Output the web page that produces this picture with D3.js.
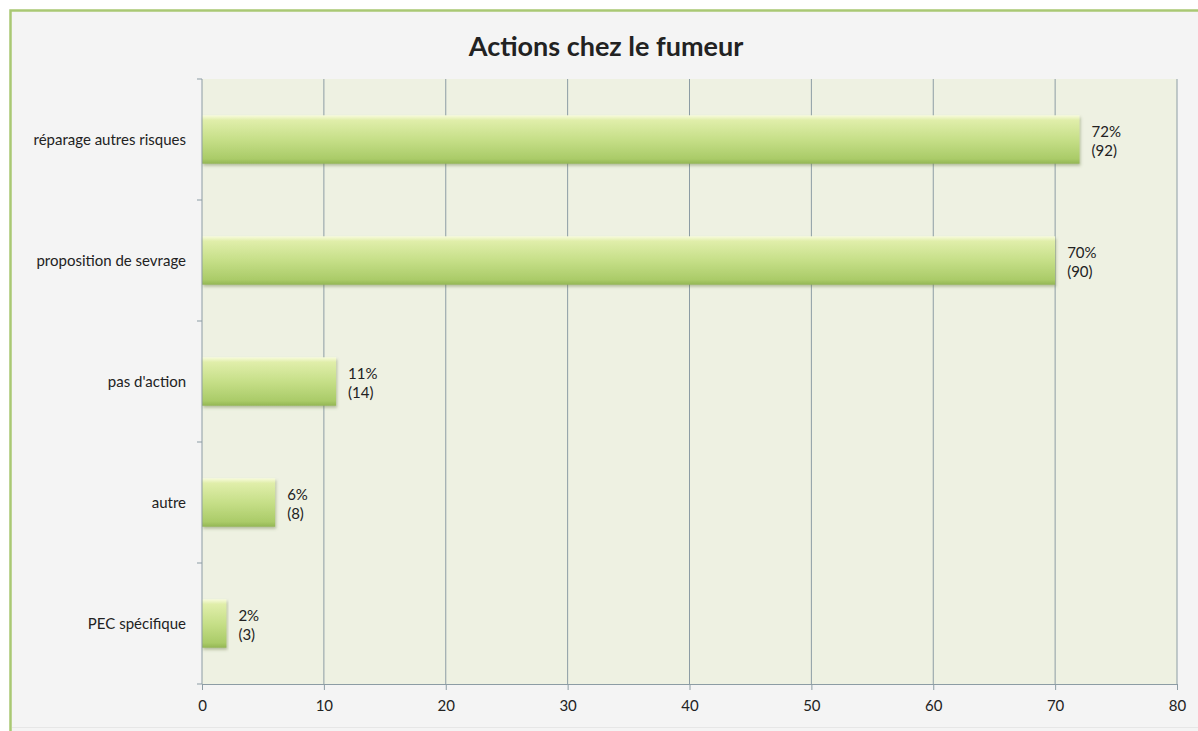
<!DOCTYPE html>
<html>
<head>
<meta charset="utf-8">
<script src="https://cdn.jsdelivr.net/npm/d3@7"></script>
<style>
  body { margin: 0; background: #ffffff; }
  svg text { font-family: Lato, "Open Sans", sans-serif; fill: #222; }
</style>
</head>
<body>
<div id="chart"></div>
<script>
// Données
const categories = ["réparage autres risques", "proposition de sevrage", "pas d'action", "autre", "PEC spécifique"];
const pourcentages = [72, 70, 11, 6, 2];
const effectifs = [92, 90, 14, 8, 3];
const ticksX = [0, 10, 20, 30, 40, 50, 60, 70, 80];

const width = 1198, height = 731;
const mGauche = 202, mDroite = 1177, mHaut = 79, mBas = 684;

const svg = d3.select("#chart").append("svg")
    .attr("width", width)
    .attr("height", height);

const defs = svg.append("defs");
const grad = defs.append("linearGradient")
    .attr("id", "barre").attr("x1", 0).attr("y1", 0).attr("x2", 0).attr("y2", 1);
grad.append("stop").attr("offset", "0%").attr("stop-color", "#f8fbdc");
grad.append("stop").attr("offset", "10%").attr("stop-color", "#e0eeaa");
grad.append("stop").attr("offset", "50%").attr("stop-color", "#c6df88");
grad.append("stop").attr("offset", "90%").attr("stop-color", "#aacb68");
grad.append("stop").attr("offset", "100%").attr("stop-color", "#93b654");

const ombre = defs.append("filter").attr("id", "ombre")
    .attr("x", "-5%").attr("y", "-20%").attr("width", "115%").attr("height", "150%");
ombre.append("feDropShadow")
    .attr("dx", 1).attr("dy", 2).attr("stdDeviation", 1.5)
    .attr("flood-color", "#6b7d45").attr("flood-opacity", 0.45);

// Cadre
svg.append("rect")
    .attr("x", 10.5).attr("y", 10.5)
    .attr("width", 1200).attr("height", 740)
    .attr("fill", "#f4f4f4")
    .attr("stroke", "#a9c873").attr("stroke-width", 2.5);
svg.append("line")
    .attr("x1", 12).attr("x2", width).attr("y1", 727.5).attr("y2", 727.5)
    .attr("stroke", "#e6e6e6");

const x = d3.scaleLinear().domain([0, 80]).range([mGauche, mDroite]);
const y = d3.scaleBand().domain(categories).range([mHaut, mBas]).paddingInner(0.6).paddingOuter(0.3);

// Zone de tracé
svg.append("rect")
    .attr("x", mGauche).attr("y", mHaut)
    .attr("width", mDroite - mGauche).attr("height", mBas - mHaut)
    .attr("fill", "#eef1e2");

// Grille verticale
svg.append("g")
    .selectAll("line")
    .data(ticksX.slice(1))
    .enter().append("line")
    .attr("x1", d => x(d)).attr("x2", d => x(d))
    .attr("y1", mHaut).attr("y2", mBas)
    .attr("stroke", "#8c9ca4").attr("stroke-width", 1);

// Barres
svg.append("g")
    .selectAll("rect")
    .data(categories)
    .enter().append("rect")
    .attr("x", x(0))
    .attr("y", d => y(d))
    .attr("width", (d, i) => x(pourcentages[i]) - x(0))
    .attr("height", y.bandwidth())
    .attr("fill", "url(#barre)")
    .attr("filter", "url(#ombre)");

// Étiquettes des barres
const etiq = svg.append("g")
    .selectAll("text")
    .data(categories)
    .enter().append("text")
    .attr("x", (d, i) => x(pourcentages[i]) + 12)
    .attr("y", d => y(d) + y.bandwidth() / 2)
    .attr("font-size", "15px");
etiq.append("tspan").attr("dy", "-3").text((d, i) => pourcentages[i] + "%");
etiq.append("tspan").attr("x", (d, i) => x(pourcentages[i]) + 12).attr("dy", "19").text((d, i) => "(" + effectifs[i] + ")");

// Axe X
const axeX = svg.append("g")
    .attr("transform", `translate(0,${mBas})`)
    .call(d3.axisBottom(x).tickValues(ticksX).tickSize(6).tickPadding(10).tickFormat(d3.format("d")));
axeX.select(".domain").attr("stroke", "#8c9ca4");
axeX.selectAll(".tick line").attr("stroke", "#8c9ca4");
axeX.selectAll("text").attr("font-size", "15px").attr("fill", "#222")
    .style("font-family", "Lato, 'Open Sans', sans-serif");

// Axe Y
const frontieres = d3.range(categories.length + 1).map(i => mHaut + i * (mBas - mHaut) / categories.length);
const axeY = svg.append("g");
axeY.append("line")
    .attr("x1", mGauche).attr("x2", mGauche).attr("y1", mHaut).attr("y2", mBas)
    .attr("stroke", "#8c9ca4");
axeY.selectAll("line.tick")
    .data(frontieres)
    .enter().append("line")
    .attr("class", "tick")
    .attr("x1", mGauche - 5).attr("x2", mGauche)
    .attr("y1", d => d).attr("y2", d => d)
    .attr("stroke", "#8c9ca4");
axeY.selectAll("text")
    .data(categories)
    .enter().append("text")
    .attr("x", 186)
    .attr("y", d => y(d) + y.bandwidth() / 2)
    .attr("dy", "0.35em")
    .attr("text-anchor", "end")
    .attr("font-size", "15px")
    .text(d => d);

// Titre
svg.append("text")
    .attr("x", 606).attr("y", 56)
    .attr("text-anchor", "middle")
    .attr("font-size", "27px")
    .attr("font-weight", "bold")
    .attr("fill", "#111")
    .text("Actions chez le fumeur");
</script>
</body>
</html>
